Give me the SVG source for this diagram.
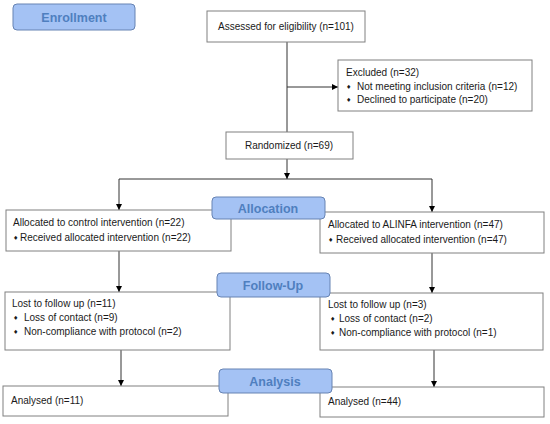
<svg xmlns="http://www.w3.org/2000/svg" width="550" height="424" viewBox="0 0 550 424">
<style>
.box{fill:#ffffff;stroke:#808080;stroke-width:1}
.lbl{fill:#a4c2f4;stroke:#6683b3;stroke-width:1}
.t{font-family:"Liberation Sans",Arial,sans-serif;font-size:10px;fill:#1a1a1a}
.b{font-family:"DejaVu Sans","Liberation Sans",sans-serif;font-size:6px;fill:#1a1a1a}
.lt{font-family:"Liberation Sans",Arial,sans-serif;font-size:12.5px;font-weight:bold;fill:#4f7fbf;text-anchor:middle}
.ln{fill:none;stroke:#333333;stroke-width:1}
</style>
<defs>
<marker id="ah" viewBox="0 0 10 10" refX="10" refY="5" markerWidth="6" markerHeight="6" orient="auto" markerUnits="userSpaceOnUse">
<path d="M0,0 L10,5 L0,10 z" fill="#000000"/>
</marker>
</defs>
<g id="connectors">
<path class="ln" d="M287,42 V132"/>
<path class="ln" d="M287,87 H338" marker-end="url(#ah)"/>
<path class="ln" d="M287,159 V179" marker-end="url(#ah)"/>
<path class="ln" d="M119,179 H432"/>
<path class="ln" d="M119,179 V210" marker-end="url(#ah)"/>
<path class="ln" d="M432,179 V212" marker-end="url(#ah)"/>
<path class="ln" d="M119,251 V292" marker-end="url(#ah)"/>
<path class="ln" d="M432,253 V293" marker-end="url(#ah)"/>
<path class="ln" d="M121,350 V386" marker-end="url(#ah)"/>
<path class="ln" d="M434,350 V387" marker-end="url(#ah)"/>
</g>
<g id="assessed">
<rect class="box" x="207" y="11" width="158" height="31"/>
<text class="t" x="286" y="30" text-anchor="middle">Assessed for eligibility (n=101)</text>
</g>
<g id="excluded">
<rect class="box" x="338" y="60" width="194" height="51"/>
<text class="t" x="346" y="76">Excluded (n=32)</text>
<text class="b" x="346" y="89">♦</text>
<text class="t" x="357" y="90">Not meeting inclusion criteria (n=12)</text>
<text class="b" x="346" y="102">♦</text>
<text class="t" x="357" y="103">Declined to participate (n=20)</text>
</g>
<g id="randomized">
<rect class="box" x="226" y="132" width="127" height="27"/>
<text class="t" x="289" y="149" text-anchor="middle">Randomized (n=69)</text>
</g>
<g id="alloc-left">
<rect class="box" x="6" y="210" width="225" height="41"/>
<text class="t" x="13" y="226">Allocated to control intervention (n=22)</text>
<text class="b" x="13" y="240">♦</text>
<text class="t" x="20" y="241">Received allocated intervention (n=22)</text>
</g>
<g id="alloc-right">
<rect class="box" x="320" y="212" width="224" height="41"/>
<text class="t" x="328" y="228">Allocated to ALINFA intervention (n=47)</text>
<text class="b" x="328" y="242">♦</text>
<text class="t" x="336" y="243">Received allocated intervention (n=47)</text>
</g>
<g id="lost-left">
<rect class="box" x="5" y="292" width="225" height="58"/>
<text class="t" x="12" y="307">Lost to follow up (n=11)</text>
<text class="b" x="13" y="320">♦</text>
<text class="t" x="24" y="321">Loss of contact (n=9)</text>
<text class="b" x="13" y="334">♦</text>
<text class="t" x="24" y="335">Non-compliance with protocol (n=2)</text>
</g>
<g id="lost-right">
<rect class="box" x="320" y="293" width="223" height="57"/>
<text class="t" x="328" y="308">Lost to follow up (n=3)</text>
<text class="b" x="330" y="321">♦</text>
<text class="t" x="339" y="322">Loss of contact (n=2)</text>
<text class="b" x="330" y="335">♦</text>
<text class="t" x="339" y="336">Non-compliance with protocol (n=1)</text>
</g>
<g id="analysed-left">
<rect class="box" x="3" y="386" width="225" height="30"/>
<text class="t" x="11" y="404">Analysed (n=11)</text>
</g>
<g id="analysed-right">
<rect class="box" x="320" y="387" width="224" height="30"/>
<text class="t" x="328" y="405">Analysed (n=44)</text>
</g>
<g id="label-enrollment">
<rect class="lbl" x="13" y="4" width="122" height="26" rx="4"/>
<text class="lt" x="74" y="22">Enrollment</text>
</g>
<g id="label-allocation">
<rect class="lbl" x="212" y="197" width="113" height="22" rx="4"/>
<text class="lt" x="268" y="213">Allocation</text>
</g>
<g id="label-followup">
<rect class="lbl" x="217" y="273" width="113" height="24" rx="4"/>
<text class="lt" x="273" y="290">Follow-Up</text>
</g>
<g id="label-analysis">
<rect class="lbl" x="219" y="369" width="113" height="24" rx="4"/>
<text class="lt" x="275" y="386">Analysis</text>
</g>
</svg>
